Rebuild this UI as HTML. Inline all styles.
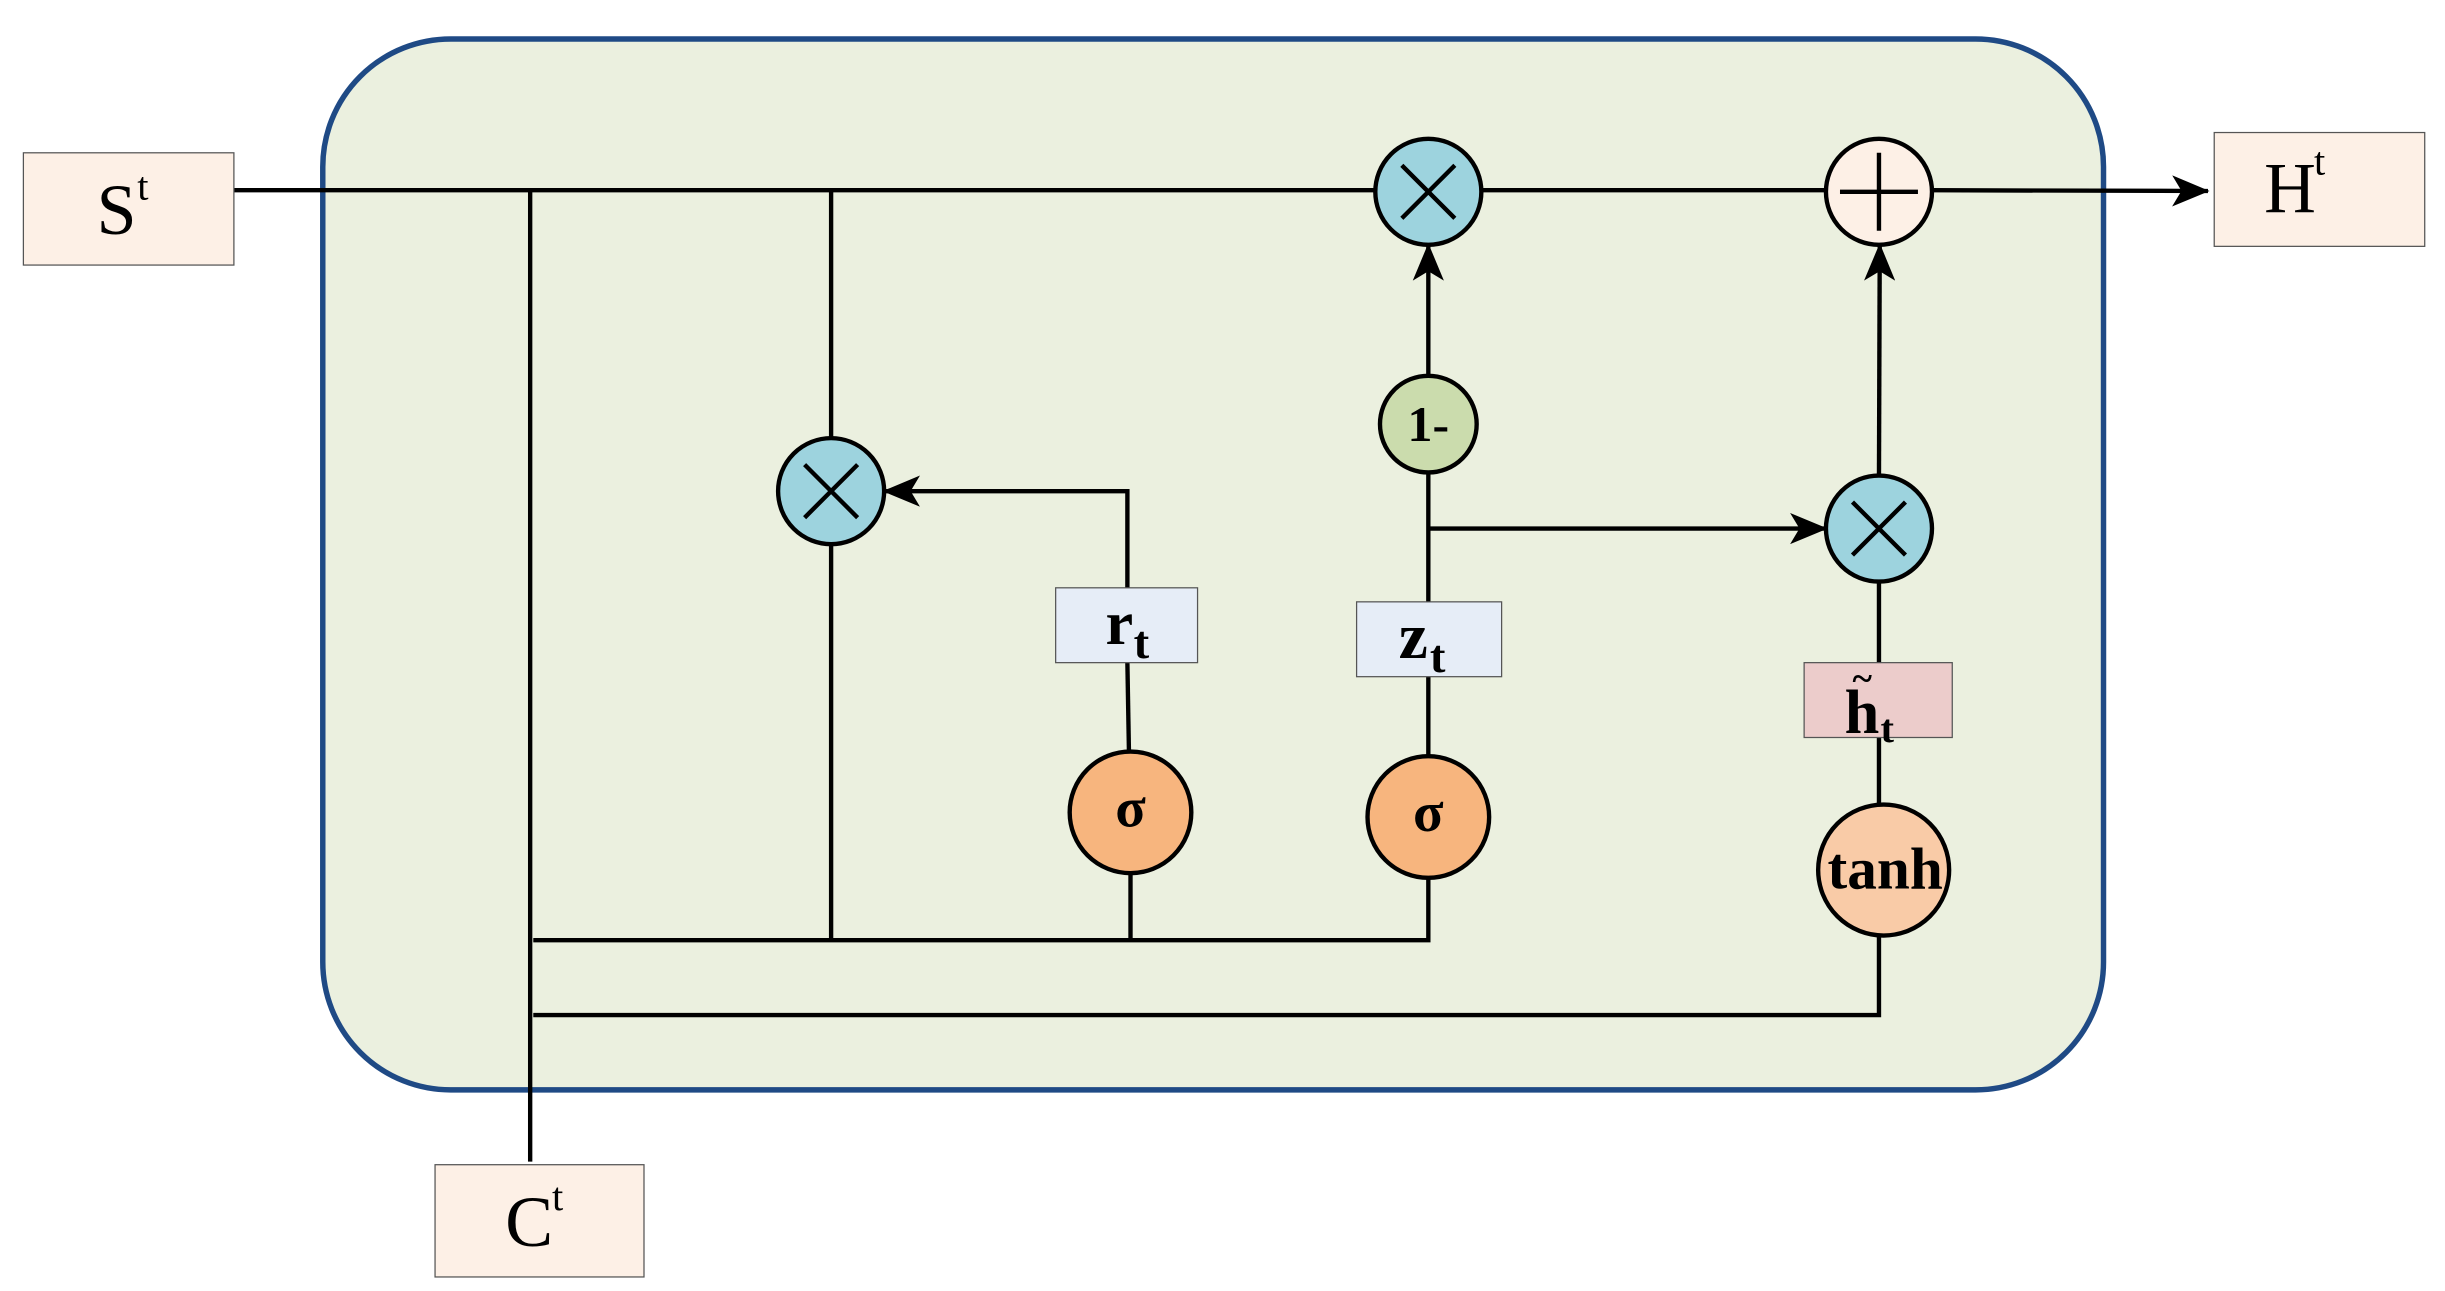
<!DOCTYPE html>
<html><head><meta charset="utf-8"><style>html,body{margin:0;padding:0;background:#fff}svg{display:block}</style></head>
<body>
<svg width="2445" height="1291" viewBox="0 0 1568 828" preserveAspectRatio="none" xmlns="http://www.w3.org/2000/svg" font-family="Liberation Serif, serif">
<defs>
<marker id="b" markerWidth="24" markerHeight="20" refX="23" refY="10" orient="auto" markerUnits="userSpaceOnUse"><path d="M0,0 L24,10 L0,20 L6,10 Z" fill="#000"/></marker></defs>
<rect x="207" y="25" width="1142" height="674" rx="82" fill="#ebf0df" stroke="#1f4a85" stroke-width="3.5"/>
<g stroke="#000" stroke-width="2.8" fill="none">
<line x1="150" y1="122" x2="882" y2="122"/>
<line x1="950" y1="122" x2="1171" y2="122"/>
<line x1="1239" y1="122" x2="1416" y2="122.5" marker-end="url(#b)"/>
<line x1="340" y1="122" x2="340" y2="745"/>
<line x1="533" y1="122" x2="533" y2="603"/>
<polyline points="723,377 723,315 567,315" marker-end="url(#b)"/>
<line x1="723" y1="425" x2="724" y2="482"/>
<line x1="725" y1="560" x2="725" y2="603"/>
<polyline points="342,603 916,603 916,563"/>
<line x1="916" y1="485" x2="916" y2="434"/>
<line x1="916" y1="386" x2="916" y2="303"/>
<line x1="916" y1="241" x2="916" y2="157" marker-end="url(#b)"/>
<line x1="916" y1="339" x2="1171" y2="339" marker-end="url(#b)"/>
<line x1="1205" y1="305" x2="1205.5" y2="157" marker-end="url(#b)"/>
<line x1="1205" y1="373" x2="1205" y2="425"/>
<line x1="1205" y1="473" x2="1205" y2="516"/>
<polyline points="342,651 1205,651 1205,600"/>
</g>
<g stroke="#000" stroke-width="2.8">
<circle cx="533" cy="315" r="34" fill="#9dd3de"/>
<circle cx="916" cy="123" r="34" fill="#9dd3de"/>
<circle cx="1205" cy="339" r="34" fill="#9dd3de"/>
<circle cx="1205" cy="123" r="34" fill="#fdf0e6"/>
<circle cx="916" cy="272" r="31" fill="#cbdcad"/>
<circle cx="725" cy="521" r="39" fill="#f7b57e"/>
<circle cx="916" cy="524" r="39" fill="#f7b57e"/>
<circle cx="1208" cy="558" r="42" fill="#f9cba7"/>
<path d="M516,298 L550,332 M550,298 L516,332 M899,106 L933,140 M933,106 L899,140 M1188,322 L1222,356 M1222,322 L1188,356 M1205,98 L1205,148 M1180,123 L1230,123" fill="none"/>
</g>
<g stroke="#555" stroke-width="0.8">
<rect x="15" y="98" width="135" height="72" fill="#fdf0e6"/>
<rect x="1420" y="85" width="135" height="73" fill="#fdf0e6"/>
<rect x="279" y="747" width="134" height="72" fill="#fdf0e6"/>
<rect x="677" y="377" width="91" height="48" fill="#e6edf7"/>
<rect x="870" y="386" width="93" height="48" fill="#e6edf7"/>
<rect x="1157" y="425" width="95" height="48" fill="#eccccb"/>
</g>
<g fill="#000">
<text x="62" y="150" font-size="46">S</text><text x="88" y="128" font-size="26">t</text>
<text x="1452" y="136" font-size="46">H</text><text x="1484" y="112" font-size="26">t</text>
<text x="324" y="799" font-size="46">C</text><text x="354" y="776" font-size="26">t</text>
<g font-weight="bold">
<text x="709" y="413" font-size="40">r</text><text x="727" y="422" font-size="30">t</text>
<text x="897" y="422" font-size="42">z</text><text x="917" y="431" font-size="30">t</text>
<text x="1183" y="470" font-size="40">h</text><text x="1206" y="476" font-size="26">t</text>
<text x="1188" y="443" font-size="24">~</text>
<text x="916" y="283" font-size="32" text-anchor="middle">1-</text>
<text x="725" y="530" font-size="36" text-anchor="middle">σ</text>
<text x="916" y="533" font-size="36" text-anchor="middle">σ</text>
<text x="1209" y="570" font-size="38" text-anchor="middle">tanh</text>
</g></g>
</svg>
</body></html>
